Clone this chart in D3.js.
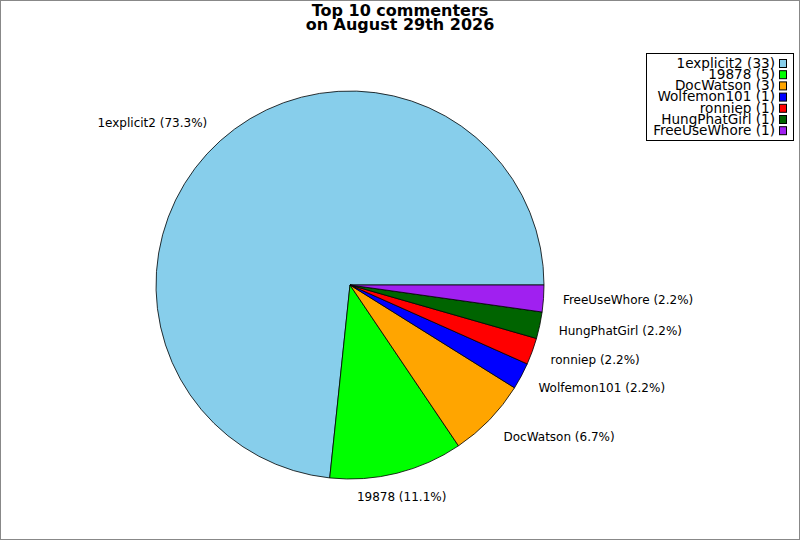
<!DOCTYPE html>
<html>
<head>
<meta charset="utf-8">
<script src="https://cdn.jsdelivr.net/npm/d3@7/dist/d3.min.js"></script>
<style>
    body { margin: 0; background: #fff; }
    svg { display: block; font-family: "DejaVu Sans", sans-serif; }
    .title { font-size: 16px; font-weight: bold; }
    .label { font-size: 12px; }
    .legend text { font-size: 13.6px; }
</style>
</head>
<body>
<div id="chart"></div>
<script>
    // data
    var names = ["1explicit2", "19878", "DocWatson", "Wolfemon101", "ronniep", "HungPhatGirl", "FreeUseWhore"];
    var counts = [33, 5, 3, 1, 1, 1, 1];
    var colors = ["#87ceeb", "#00ff00", "#ffa500", "#0000ff", "#ff0000", "#006400", "#a020f0"];
    var titleLines = ["Top 10 commenters", "on August 29th 2026"];

    var width = 800, height = 540;
    var cx = 350, cy = 285, radius = 194;

    var svg = d3.select("#chart").append("svg")
        .attr("width", width)
        .attr("height", height);

    // frame
    svg.append("rect")
        .attr("x", 0.5).attr("y", 0.5)
        .attr("width", width - 1).attr("height", height - 1)
        .attr("fill", "#fff")
        .attr("stroke", "#888");

    svg.append("text")
        .attr("class", "title")
        .attr("text-anchor", "middle")
        .selectAll("tspan").data(titleLines).enter()
        .append("tspan")
        .attr("x", 400)
        .attr("y", function (d, i) { return 16 + i * 14; })
        .text(function (d) { return d; });

    var rows = names.map(function (n, i) {
        return {name: n, count: counts[i], color: colors[i]};
    });
    var total = d3.sum(counts);

    // counter-clockwise from 3 o'clock
    var pie = d3.pie()
        .sort(null)
        .value(function (d) { return d.count; })
        .startAngle(Math.PI / 2)
        .endAngle(Math.PI / 2 - 2 * Math.PI);

    var arc = d3.arc().innerRadius(0).outerRadius(radius);

    var g = svg.append("g").attr("transform", "translate(" + cx + "," + cy + ")");
    var arcs = pie(rows);

    g.selectAll("path").data(arcs).enter()
        .append("path")
        .attr("d", arc)
        .attr("fill", function (d) { return d.data.color; })
        .attr("stroke", "#000")
        .attr("stroke-width", 0.8);

    var labelR = radius * 1.1;
    g.selectAll("text.label").data(arcs).enter()
        .append("text")
        .attr("class", "label")
        .each(function (d) {
            var a = (d.startAngle + d.endAngle) / 2;   // d3 angle, clockwise from 12
            var sx = Math.sin(a), sy = -Math.cos(a);
            var x = sx * labelR, y = sy * labelR;
            var anchor = sx > 0.3 ? "start" : (sx < -0.3 ? "end" : "middle");
            d3.select(this)
                .attr("x", x)
                .attr("y", y + sy * 5)
                .attr("dy", "0.35em")
                .attr("text-anchor", anchor)
                .text(d.data.name + " (" + (d.data.count / total * 100).toFixed(1) + "%)");
        });

    // legend
    var legend = svg.append("g").attr("class", "legend");
    legend.append("rect")
        .attr("x", 646.5).attr("y", 53.5)
        .attr("width", 147).attr("height", 87)
        .attr("fill", "#fff")
        .attr("stroke", "#000");

    var item = legend.selectAll("g.item").data(rows).enter()
        .append("g")
        .attr("class", "item")
        .attr("transform", function (d, i) { return "translate(0," + (63 + i * 11.2) + ")"; });

    item.append("text")
        .attr("x", 775)
        .attr("dy", "0.35em")
        .attr("text-anchor", "end")
        .text(function (d) { return d.name + " (" + d.count + ")"; });

    item.append("rect")
        .attr("x", 779.5).attr("y", -3.5)
        .attr("width", 7).attr("height", 8)
        .attr("fill", function (d) { return d.color; })
        .attr("stroke", "#000");
</script>
</body>
</html>
